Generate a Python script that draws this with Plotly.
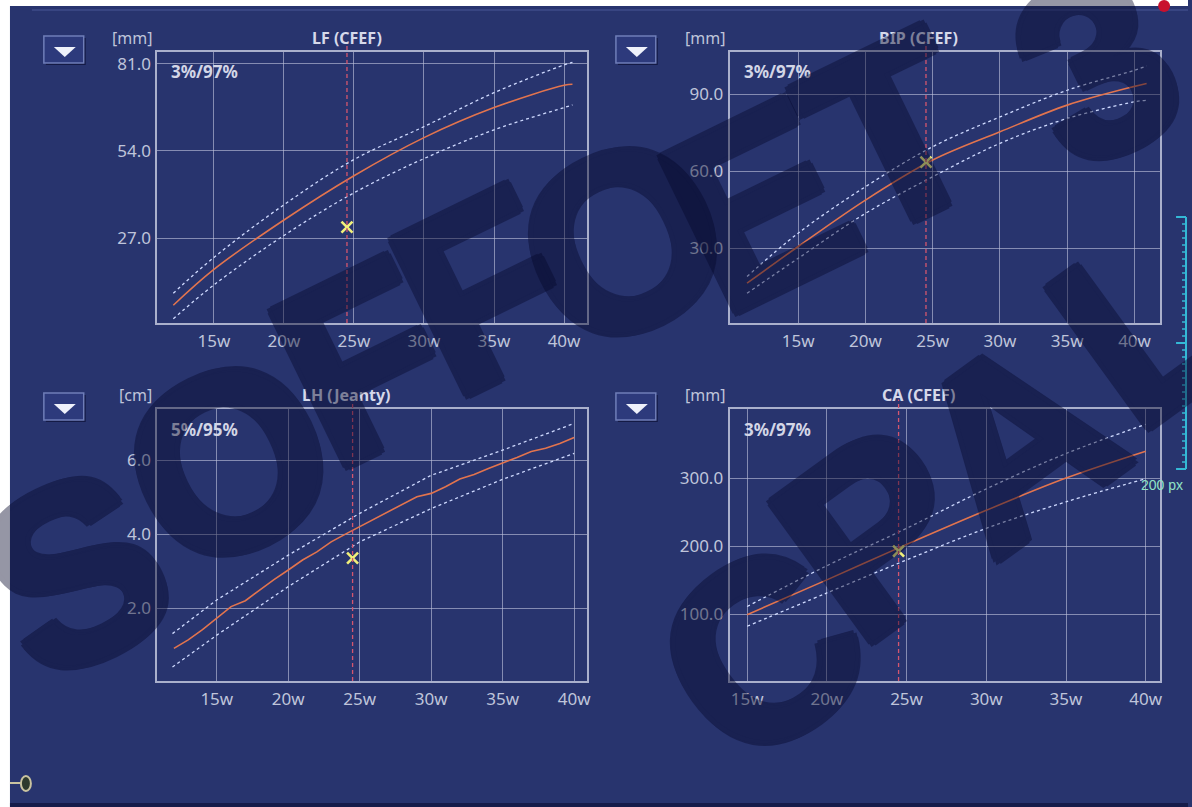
import plotly.graph_objects as go

W, H = 1192, 807


def px(x):
    return x / W


def py(y):
    return 1 - y / H


# ---------------- growth reference curves (gestational weeks) ----------------
lf_weeks = [12.1, 15, 20, 25, 30, 35, 40, 40.6]
lf_p50 = [6.2, 17.3, 32.6, 46.3, 58.1, 67.4, 74.3, 74.6]
lf_p97 = [9.9, 21.0, 37.3, 51.3, 61.5, 72.0, 80.6, 81.4]
lf_p3 = [2.0, 12.5, 27.8, 41.0, 51.6, 60.5, 67.4, 68.2]

bip_weeks = [11.2, 15, 20, 25, 30, 35, 40, 40.9]
bip_p50 = [16.3, 30.6, 48.7, 64.3, 75.3, 85.7, 93.0, 94.1]
bip_p97 = [18.9, 35.8, 53.9, 69.5, 81.1, 91.5, 99.3, 101.0]
bip_p3 = [12.4, 26.0, 43.5, 57.8, 70.8, 80.5, 87.0, 87.6]

lh_weeks = list(range(12, 41))
lh_p50 = [0.91, 1.14, 1.42, 1.72, 2.04, 2.20, 2.49, 2.77, 3.03, 3.30, 3.52, 3.79,
          4.00, 4.20, 4.40, 4.60, 4.80, 5.01, 5.10, 5.28, 5.49, 5.61, 5.77, 5.91,
          6.07, 6.23, 6.32, 6.45, 6.61]
lh_pct_weeks = [11.9, 15, 20, 25, 30, 35, 40]
lh_p95 = [1.31, 2.22, 3.43, 4.56, 5.59, 6.27, 6.99]
lh_p5 = [0.41, 1.27, 2.58, 3.79, 4.69, 5.48, 6.18]

ca_weeks = [15, 20, 25, 30, 35, 40]
ca_p50 = [99.0, 150.2, 202.4, 252.7, 300.0, 339.5]
ca_p97 = [111.0, 171.0, 226.0, 284.0, 336.0, 379.0]
ca_p3 = [82.0, 131.0, 179.5, 226.0, 265.0, 299.0]

# current exam
exam_ga = 24.5
lf_value = 30.4
bip_value = 63.5
lh_value = 3.35
ca_value = 192.6

week_ticks = [15, 20, 25, 30, 35, 40]
week_labels = ["15w", "20w", "25w", "30w", "35w", "40w"]

BG = "#28346e"
GRID = "rgba(190,196,220,0.62)"
FRAME = "#aab0cc"
TXT = "#bfc4da"
MED = "#e2744e"
PCT = "#cfdaff"
GA_LINE = "#d4566e"
MARK = "#f1f07a"

panels = [
    dict(box=(158, 52, 589, 323), xr=[10.97, 41.64], yr=[0.7, 84.6],
         yt=[27, 54, 81], unit="[mm]", title="LF (CFEF)", pct="3%/97%",
         med=(lf_weeks, lf_p50), hi=(lf_weeks, lf_p97), lo=(lf_weeks, lf_p3),
         val=lf_value, smooth=True),
    dict(box=(732, 52, 1164, 323), xr=[9.9, 41.9], yr=[0.8, 106.4],
         yt=[30, 60, 90], unit="[mm]", title="BIP (CFEF)", pct="3%/97%",
         med=(bip_weeks, bip_p50), hi=(bip_weeks, bip_p97), lo=(bip_weeks, bip_p3),
         val=bip_value, smooth=True),
    dict(box=(158, 409, 589, 681), xr=[10.85, 40.9], yr=[0.03, 7.38],
         yt=[2, 4, 6], unit="[cm]", title="LH (Jeanty)", pct="5%/95%",
         med=(lh_weeks, lh_p50), hi=(lh_pct_weeks, lh_p95), lo=(lh_pct_weeks, lh_p5),
         val=lh_value, smooth=False),
    dict(box=(732, 409, 1164, 681), xr=[13.9, 40.9], yr=[1.5, 401.5],
         yt=[100, 200, 300], unit="[mm]", title="CA (CFEF)", pct="3%/97%",
         med=(ca_weeks, ca_p50), hi=(ca_weeks, ca_p97), lo=(ca_weeks, ca_p3),
         val=ca_value, smooth=True),
]

fig = go.Figure()
shapes = []
annotations = []
layout_axes = {}

for i, p in enumerate(panels, start=1):
    x0, y0, x1, y1 = p["box"]
    xa = "xaxis" if i == 1 else f"xaxis{i}"
    ya = "yaxis" if i == 1 else f"yaxis{i}"
    xref = "x" if i == 1 else f"x{i}"
    yref = "y" if i == 1 else f"y{i}"

    layout_axes[xa] = dict(
        domain=[px(x0), px(x1)], range=p["xr"], anchor=yref,
        tickvals=week_ticks, ticktext=week_labels, ticks="",
        showgrid=True, gridcolor=GRID, gridwidth=1, zeroline=False,
        showline=True, mirror=True, linecolor=FRAME, linewidth=2,
        tickfont=dict(family="Noto Sans", size=17, color=TXT),
        ticklabelstandoff=2, fixedrange=True,
    )
    layout_axes[ya] = dict(
        domain=[py(y1), py(y0)], range=p["yr"], anchor=xref,
        tickvals=p["yt"], tickformat=".1f", ticks="",
        showgrid=True, gridcolor=GRID, gridwidth=1, zeroline=False,
        showline=True, mirror=True, linecolor=FRAME, linewidth=2,
        tickfont=dict(family="Noto Sans", size=17, color=TXT),
        ticklabelstandoff=1, fixedrange=True,
    )

    shape = "spline" if p["smooth"] else "linear"
    for (wk, vals), dash, col, wd in ((p["hi"], "3px,3px", PCT, 1.3),
                                      (p["lo"], "3px,3px", PCT, 1.3),
                                      (p["med"], "solid", MED, 1.6)):
        fig.add_trace(go.Scatter(
            x=wk, y=vals, mode="lines", xaxis=xref, yaxis=yref,
            line=dict(color=col, width=wd, dash=dash, shape=shape),
            showlegend=False, hoverinfo="skip"))

    # gestational age of the exam
    shapes.append(dict(type="line", xref=xref, yref=f"{yref} domain",
                       x0=exam_ga, x1=exam_ga, y0=0, y1=1.035,
                       line=dict(color=GA_LINE, width=1.3, dash="4px,3px")))

    fig.add_trace(go.Scatter(
        x=[exam_ga], y=[p["val"]], mode="markers", xaxis=xref, yaxis=yref,
        marker=dict(symbol="x-thin", size=11, line=dict(color=MARK, width=2.6)),
        showlegend=False, hoverinfo="skip"))

    # header texts
    annotations.append(dict(x=px(x0 - 3), y=py(y0 - 14), xref="paper", yref="paper",
                            text=p["unit"], showarrow=False, xanchor="right",
                            yanchor="middle",
                            font=dict(family="Noto Sans", size=16, color=TXT)))
    annotations.append(dict(x=px(x0 + 190), y=py(y0 - 14), xref="paper", yref="paper",
                            text=p["title"], showarrow=False, xanchor="center",
                            yanchor="middle",
                            font=dict(family="Noto Sans", size=16, color="#d6d9ea",
                                      weight="bold")))
    annotations.append(dict(x=px(x0 + 12), y=py(y0 + 20), xref="paper", yref="paper",
                            text=p["pct"], showarrow=False, xanchor="left",
                            yanchor="middle",
                            font=dict(family="Noto Sans", size=17, color="#d3d6e6",
                                      weight="bold")))

    # dropdown button
    bx0, by0 = x0 - 114, y0 - 16
    shapes.append(dict(type="rect", xref="paper", yref="paper",
                       x0=px(bx0 + 2), y0=py(by0 + 29), x1=px(bx0 + 42), y1=py(by0 + 2),
                       fillcolor="#141a45", line=dict(width=0), layer="above"))
    shapes.append(dict(type="rect", xref="paper", yref="paper",
                       x0=px(bx0), y0=py(by0 + 27), x1=px(bx0 + 40), y1=py(by0),
                       fillcolor="#2d3a7c", line=dict(color="#6f7eb8", width=1.5),
                       layer="above"))
    shapes.append(dict(type="path", xref="paper", yref="paper",
                       path=f"M {px(bx0 + 10)},{py(by0 + 11)} L {px(bx0 + 32)},{py(by0 + 11)} "
                            f"L {px(bx0 + 21)},{py(by0 + 21)} Z",
                       fillcolor="#eef1fb", line=dict(width=0), layer="above"))

# frame around the screen area
shapes += [
    dict(type="rect", xref="paper", yref="paper", x0=0, x1=px(10), y0=0, y1=1,
         fillcolor="white", line=dict(width=0), layer="below"),
    dict(type="rect", xref="paper", yref="paper", x0=0, x1=1, y0=py(6), y1=1,
         fillcolor="white", line=dict(width=0), layer="below"),
    dict(type="rect", xref="paper", yref="paper", x0=px(10), x1=1, y0=0, y1=py(803),
         fillcolor="#161c4a", line=dict(width=0), layer="below"),
    dict(type="line", xref="paper", yref="paper", x0=px(32), x1=1, y0=py(10), y1=py(10),
         line=dict(color="rgba(110,130,200,0.45)", width=1), layer="below"),
    dict(type="circle", xref="paper", yref="paper", x0=px(1162), x1=px(1174),
         y0=py(12), y1=py(0), fillcolor="#c8102e", line=dict(width=0)),
]

# key icon
shapes += [
    dict(type="line", xref="paper", yref="paper", x0=px(10), x1=px(21),
         y0=py(783), y1=py(783), line=dict(color="#c9c3a0", width=2)),
    dict(type="circle", xref="paper", yref="paper", x0=px(21), x1=px(31),
         y0=py(791), y1=py(776), line=dict(color="#c9c3a0", width=2),
         fillcolor="#2e3a2e"),
]

# measuring ruler at the right edge
RULER = "#34b8d6"
shapes.append(dict(type="line", xref="paper", yref="paper", x0=px(1190), x1=px(1190),
                   y0=py(469), y1=py(217), line=dict(color=RULER, width=2)))
for k in range(37):
    yy = 217 + k * 7
    major = k in (0, 18, 36)
    shapes.append(dict(type="line", xref="paper", yref="paper",
                       x0=px(1180 if major else 1186), x1=px(1190),
                       y0=py(yy), y1=py(yy),
                       line=dict(color=RULER, width=2 if major else 1.5)))
annotations.append(dict(x=px(1143), y=py(485), xref="paper", yref="paper",
                        text="200 px", showarrow=False, xanchor="left",
                        yanchor="middle",
                        font=dict(family="Liberation Sans", size=14, color="#8fe3c6")))

# watermark lettering, one rotated glyph per annotation
WM = "#05072a"
wm_glow = ", ".join(f"{dx}px {dy}px 0 {WM}" for dx, dy in
                    ((5, 0), (-5, 0), (0, 5), (0, -5), (4, 4), (-4, -4), (4, -4), (-4, 4)))
wm_letters = [
    ("S", 76, 572, -26), ("O", 230, 462, -26), ("F", 365, 362, -26),
    ("F", 485, 290, -26), ("O", 625, 242, -26), ("E", 762, 205, -26),
    ("T", 897, 134, -26), ("3", 1100, 66, -26),
    ("C", 764, 652, -36), ("P", 878, 532, -36), ("A", 1018, 440, -36),
    ("L", 1150, 322, -36),
]
for ch, lx, ly, ang in wm_letters:
    annotations.append(dict(x=px(lx), y=py(ly), xref="paper", yref="paper",
                            text=ch, showarrow=False, textangle=ang,
                            xanchor="center", yanchor="middle", opacity=0.42,
                            font=dict(family="Liberation Sans", size=250, color=WM,
                                      weight="bold", shadow=wm_glow)))

fig.update_layout(
    width=W, height=H, autosize=False,
    margin=dict(l=0, r=0, t=0, b=0),
    paper_bgcolor=BG, plot_bgcolor="rgba(0,0,0,0)",
    shapes=shapes, annotations=annotations,
    **layout_axes,
)

fig.write_html("out.html", config=dict(displayModeBar=False))
